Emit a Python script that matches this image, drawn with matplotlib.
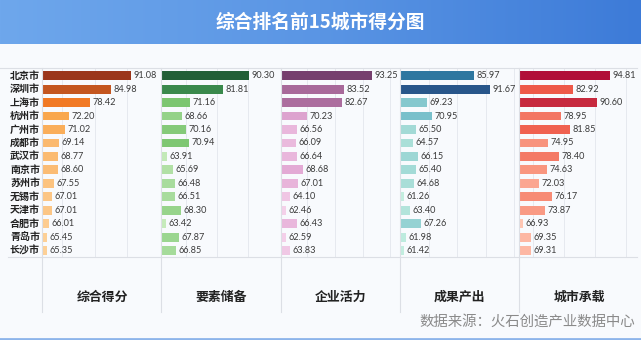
import numpy as np
import matplotlib
matplotlib.use("Agg")
import matplotlib.pyplot as plt
from matplotlib.colors import LinearSegmentedColormap, Normalize
from matplotlib.lines import Line2D

# ---------------- data ----------------
title = "综合排名前15城市得分图"
cities = ["北京市", "深圳市", "上海市", "杭州市", "广州市", "成都市", "武汉市",
          "南京市", "苏州市", "无锡市", "天津市", "合肥市", "青岛市", "长沙市"]
categories = ["综合得分", "要素储备", "企业活力", "成果产出", "城市承载"]
overall = [91.08, 84.98, 78.42, 72.20, 71.02, 69.14, 68.77, 68.60, 67.55, 67.01, 67.01, 66.01, 65.45, 65.35]
factor = [90.30, 81.81, 71.16, 68.66, 70.16, 70.94, 63.91, 65.69, 66.48, 66.51, 68.30, 63.42, 67.87, 66.85]
enterprise = [93.25, 83.52, 82.67, 70.23, 66.56, 66.09, 66.64, 68.68, 67.01, 64.10, 62.46, 66.43, 62.59, 63.83]
output = [85.97, 91.67, 69.23, 70.95, 65.50, 64.57, 66.15, 65.40, 64.68, 61.26, 63.40, 67.26, 61.98, 61.42]
carrying = [94.81, 82.92, 90.60, 78.95, 81.85, 74.95, 78.40, 74.63, 72.03, 76.17, 73.87, 66.93, 69.35, 69.31]
source = "数据来源：火石创造产业数据中心"

series = [overall, factor, enterprise, output, carrying]

# ---------------- styling ----------------
cmaps = [
    [(0.0, "#fdd096"), (0.27, "#f9a64c"), (0.5, "#f37a24"), (1.0, "#9b361b")],
    [(0.0, "#c6ebbb"), (0.3, "#78c46c"), (0.68, "#3a8a4c"), (1.0, "#225f37")],
    [(0.0, "#f4d0e9"), (0.2, "#e3aad5"), (0.68, "#a96a9b"), (1.0, "#763f6e")],
    [(0.0, "#c3eedf"), (0.3, "#7cc3cc"), (0.8, "#2f7aa2"), (1.0, "#28568a")],
    [(0.0, "#ffc6b3"), (0.3, "#f8917a"), (0.58, "#ee5748"), (1.0, "#b10f39")],
]
xlims = [(63.85, 99.2), (61.95, 98.8), (60.59, 102.7), (59.75, 101.0), (65.5, 103.5)]
panel_px = [(42, 160), (161, 279), (280.5, 398), (399.7, 517), (519, 637)]

CJK = ["Noto Sans CJK SC", "DejaVu Sans"]
NUM = ["Lato", "Noto Sans CJK SC", "DejaVu Sans"]
plt.rcParams["font.family"] = CJK

W, H = 641, 340
fig = plt.figure(figsize=(W / 100, H / 100), dpi=100)
fig.patch.set_facecolor("#f8fafd")

def fx(px):
    return px / W

def fy(py):
    return 1 - py / H

# banner
bax = fig.add_axes([0, fy(44), 1, 44 / H])
grad = np.linspace(0, 1, 256).reshape(1, -1)
bcmap = LinearSegmentedColormap.from_list("b", ["#6ea7ec", "#5a95e4", "#3d7bd8"])
bax.imshow(grad, aspect="auto", cmap=bcmap, extent=[0, 1, 0, 1])
bax.set_axis_off()
fig.text(0.5, fy(22), title, ha="center", va="center", color="white",
         fontsize=13.5, fontweight="bold", family=CJK)

top_px, bot_px = 68, 257
n = len(cities)
y = np.arange(n)

for i, vals in enumerate(series):
    x0, x1 = panel_px[i]
    ax = fig.add_axes([fx(x0), fy(bot_px), fx(x1 - x0), (bot_px - top_px) / H])
    ax.set_facecolor("none")
    cm = LinearSegmentedColormap.from_list(f"c{i}", cmaps[i])
    norm = Normalize(min(vals), max(vals))
    colors = [cm(norm(v)) for v in vals]
    ax.barh(y, vals, height=0.66, color=colors, left=0, zorder=2)
    ax.set_xlim(*xlims[i])
    ax.set_ylim(n - 0.53, -0.57)
    ax.set_xticks(np.arange(70, 101, 10))
    ax.grid(axis="x", color="#e6e9ef", linewidth=0.7, zorder=0)
    ax.tick_params(left=False, bottom=False, labelleft=False, labelbottom=False)
    for s in ax.spines.values():
        s.set_visible(False)
    for yy, v in zip(y, vals):
        ax.annotate(f"{v:.2f}", (v, yy), xytext=(1.8, 0), textcoords="offset points",
                    ha="left", va="center", fontsize=6.6, color="#3a3a3a",
                    family=NUM, zorder=3)
    # category label
    fig.text(fx((x0 + x1) / 2 + 1), fy(297), categories[i], ha="center", va="center",
             fontsize=9.3, fontweight="bold", color="#222222", family=CJK)
    # separator
    fig.add_artist(Line2D([fx(x0), fx(x0)], [fy(top_px), fy(312)],
                          color="#dcdfe5", linewidth=0.8))

# city labels
for yy, c in zip(y, cities):
    py = top_px + (yy + 0.57) * (bot_px - top_px) / (n + 0.04)
    fig.text(fx(40), fy(py), c, ha="right", va="center", fontsize=7.2,
             fontweight="bold", color="#222222", family=CJK)

# horizontal frame lines
fig.add_artist(Line2D([0, fx(637)], [fy(top_px), fy(top_px)], color="#dcdfe5", linewidth=0.8))
fig.add_artist(Line2D([fx(8), fx(637)], [fy(bot_px), fy(bot_px)], color="#dcdfe5", linewidth=0.8))

# source
fig.text(fx(635), fy(322), source, ha="right", va="center", fontsize=10.4,
         color="#8a8a8a", family=CJK)

# bottom border
fig.add_artist(Line2D([0, 1], [fy(338.5), fy(338.5)], color="#8db4ea", linewidth=2))

fig.savefig("out.png", dpi=100, facecolor=fig.get_facecolor())
